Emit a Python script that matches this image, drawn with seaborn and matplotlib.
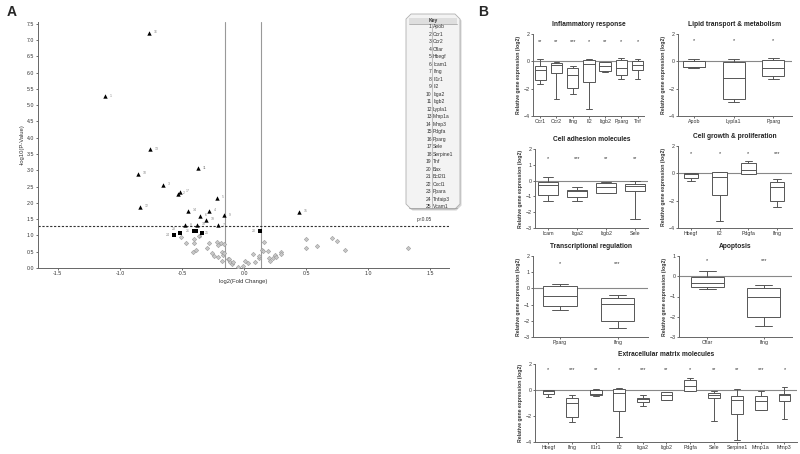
import numpy as np
import pandas as pd
import matplotlib
matplotlib.use("Agg")
import matplotlib.pyplot as plt
from matplotlib.patches import Polygon
import seaborn as sns

# ---- Panel A: volcano data ----
tri_x = [-0.766, -1.12, -0.758, -0.857, -0.65, -0.374, -0.535, -0.513, -0.839, -0.218,
         -0.452, -0.357, -0.28, -0.306, -0.161, -0.476, -0.381, -0.212, 0.438]
tri_y = [7.21, 5.27, 3.64, 2.88, 2.55, 3.06, 2.27, 2.33, 1.87, 2.16,
         1.75, 1.61, 1.76, 1.47, 1.62, 1.31, 1.32, 1.31, 1.73]
tri_lab = ["16", "1", "13", "10", "3", "11", "2", "17", "12", "5",
           "14", "6", "4", "19", "9", "8", "18", "7", "15"]
sq_x = [-0.565, -0.513, -0.40, -0.387, -0.341, 0.126]
sq_y = [1.00, 1.06, 1.13, 1.13, 1.08, 1.13]
sq_lab = ["24", "23", "21", "22", "25", "20"]
ns_x = [-0.47, -0.51, -0.40, -0.40, -0.41, -0.39, -0.36, -0.28, -0.30, -0.255, -0.24, -0.22,
        -0.21, -0.21, -0.19, -0.18, -0.17, -0.16, -0.18, -0.16, -0.13, -0.12, -0.11, -0.10,
        -0.09, -0.05, -0.01, 0.01, 0.03, 0.07, 0.09, 0.12, 0.12, 0.14, 0.15, 0.16, 0.19,
        0.20, 0.21, 0.23, 0.25, 0.26, 0.30, 0.30, 0.50, 0.50, 0.59, 0.71, 0.75, 0.81, 1.32]
ns_y = [0.76, 0.95, 0.89, 0.76, 0.50, 0.54, 0.97, 0.76, 0.60, 0.45, 0.38, 0.79,
        0.35, 0.72, 0.76, 0.50, 0.40, 0.73, 0.22, 0.45, 0.28, 0.27, 0.17, 0.13,
        0.18, 0.03, 0.07, 0.20, 0.14, 0.44, 0.18, 0.30, 0.36, 0.56, 0.52, 0.81, 0.52,
        0.31, 0.20, 0.30, 0.41, 0.33, 0.48, 0.44, 0.88, 0.62, 0.68, 0.91, 0.82, 0.55, 0.62]
fc_cut = [0.9, 1.1]
p_cut = 0.05
key_genes = ["Apob", "Ccr1", "Ccr2", "Cflar", "Hbegf", "Icam1", "Ifng", "Il1r1", "Il2",
             "Itga2", "Itgb2", "Lypla1", "Mmp1a", "Mmp3", "Pdgfa", "Pparg", "Sele",
             "Serpine1", "Tnf", "Bax", "Bcl2l1", "Cxcl1", "Ppara", "Tnfaip3", "Vcam1"]

# ---- Panel B: box summaries [min, q1, median, q3, max] ----
infl_genes = ["Ccr1", "Ccr2", "Ifng", "Il2", "Itgb2", "Pparg", "Tnf"]
infl_stats = [[-1.63, -1.39, -0.63, -0.32, 0.2], [-2.73, -0.85, -0.3, -0.1, -0.05],
              [-2.41, -1.98, -0.98, -0.46, -0.34], [-3.51, -1.51, -0.2, 0.07, 0.2],
              [-0.75, -0.73, -0.32, -0.07, -0.05], [-1.32, -1.02, -0.49, 0.12, 0.27],
              [-1.27, -0.66, -0.24, 0.0, 0.2]]
infl_stars = ["**", "**", "***", "*", "**", "*", "*"]

lipid_genes = ["Apob", "Lypla1", "Pparg"]
lipid_stats = [[-0.52, -0.45, -0.38, 0.02, 0.2], [-2.98, -2.78, -1.22, -0.05, 0.2],
               [-1.32, -1.05, -0.46, 0.12, 0.27]]
lipid_stars = ["*", "*", "*"]

adh_genes = ["Icam", "Itga2", "Itgb2", "Sele"]
adh_stats = [[-1.28, -0.9, -0.26, -0.1, 0.24], [-1.26, -1.03, -0.68, -0.62, -0.43],
             [-0.8, -0.79, -0.39, -0.15, -0.12], [-2.4, -0.65, -0.35, -0.2, -0.05]]
adh_stars = ["*", "***", "**", "**"]

grow_genes = ["Hbegf", "Il2", "Pdgfa", "Ifng"]
grow_stats = [[-0.55, -0.31, -0.07, 0.0, 0.01], [-3.52, -1.59, -0.24, 0.07, 0.12],
              [-0.07, -0.05, 0.24, 0.72, 0.89], [-2.43, -2.0, -0.99, -0.6, -0.41]]
grow_stars = ["*", "*", "*", "***"]

tr_genes = ["Pparg", "Ifng"]
tr_stats = [[-1.35, -1.1, -0.46, 0.12, 0.27], [-2.46, -2.03, -0.99, -0.58, -0.43]]
tr_stars = ["*", "***"]

apo_genes = ["Cflar", "Ifng"]
apo_stats = [[-0.61, -0.55, -0.31, -0.05, 0.25], [-2.45, -2.02, -1.0, -0.6, -0.43]]
apo_stars = ["*", "***"]

ecm_genes = ["Hbegf", "Ifng", "Il1r1", "Il2", "Itga2", "Itgb2", "Pdgfa", "Sele",
             "Serpine1", "Mmp1a", "Mmp3"]
ecm_stats = [[-0.56, -0.28, -0.1, 0.0, 0.02], [-2.49, -2.05, -1.0, -0.59, -0.41],
             [-0.46, -0.38, -0.3, 0.02, 0.05], [-3.64, -1.62, -0.23, 0.05, 0.13],
             [-1.23, -0.95, -0.69, -0.6, -0.38], [-0.8, -0.8, -0.36, -0.13, -0.12],
             [-0.08, -0.05, 0.31, 0.79, 0.95], [-2.38, -0.64, -0.41, -0.23, -0.05],
             [-3.85, -1.85, -0.77, -0.46, 0.05], [-1.56, -1.54, -0.82, -0.46, -0.05],
             [-2.26, -0.82, -0.36, -0.28, 0.26]]
ecm_stars = ["*", "***", "**", "*", "***", "**", "*", "**", "**", "***", "*"]

sns.set_style("white")
plt.rcParams["font.family"] = ["Liberation Sans", "DejaVu Sans"]
plt.rcParams["axes.unicode_minus"] = True

W, H = 800, 454
fig = plt.figure(figsize=(8, 4.54), dpi=100)


def px_axes(left, top, right, bottom):
    return fig.add_axes([left / W, 1 - bottom / H, (right - left) / W, (bottom - top) / H])


def style_axes(ax, fs=4):
    for s in ["top", "right"]:
        ax.spines[s].set_visible(False)
    for s in ["left", "bottom"]:
        ax.spines[s].set_color("#666666")
        ax.spines[s].set_linewidth(0.7)
    ax.tick_params(axis="both", labelsize=fs, length=1.5, width=0.5, pad=1,
                   colors="#333333", left=True, bottom=True)


# ---- Panel A ----
ax = px_axes(38, 22, 449, 268)
ns = pd.DataFrame({"x": ns_x, "y": ns_y})
tri = pd.DataFrame({"x": tri_x, "y": tri_y, "lab": tri_lab})
sq = pd.DataFrame({"x": sq_x, "y": sq_y, "lab": sq_lab})
sns.scatterplot(data=ns, x="x", y="y", ax=ax, marker="D", s=5, color="#c8c8c8",
                edgecolor="#9a9a9a", linewidth=0.4, zorder=3)
sns.scatterplot(data=tri, x="x", y="y", ax=ax, marker="^", s=10, color="black",
                edgecolor="black", linewidth=0, zorder=4)
sns.scatterplot(data=sq, x="x", y="y", ax=ax, marker="s", s=6, color="black",
                edgecolor="black", linewidth=0, zorder=4)
for x, y, lab in zip(tri["x"], tri["y"], tri["lab"]):
    ax.annotate(lab, (x, y), xytext=(3.5, 0.5), textcoords="offset points",
                fontsize=2.5, color="#888888", va="center")
sq_offsets = [(-6, 0), (-6, 3), (-6, 0), (2, -4), (2.5, 0), (-6, 0)]
for (x, y, lab), (dx, dy) in zip(zip(sq["x"], sq["y"], sq["lab"]), sq_offsets):
    ax.annotate(lab, (x, y), xytext=(dx, dy), textcoords="offset points",
                fontsize=2.5, color="#888888", va="center")
for fc in fc_cut:
    ax.axvline(np.log2(fc), color="#999999", lw=0.8, zorder=1)
ax.axhline(-np.log10(p_cut), color="#333333", lw=0.8, ls=(0, (2, 1.5)), zorder=2)
ax.text(1.45, -np.log10(p_cut) + 0.1, "p<0.05", fontsize=3.5, color="#333333",
        ha="center", va="bottom")
ax.set_xlim(-1.66, 1.65)
ax.set_ylim(0, 7.55)
ax.set_xticks([-1.5, -1.0, -0.5, 0.0, 0.5, 1.0, 1.5])
ax.set_yticks(np.arange(0, 7.6, 0.5))
ax.xaxis.set_major_formatter(matplotlib.ticker.FormatStrFormatter("%.1f"))
ax.yaxis.set_major_formatter(matplotlib.ticker.FormatStrFormatter("%.1f"))
ax.set_xlabel("log2(Fold Change)", fontsize=4.2, labelpad=1.5, color="#333333")
ax.set_ylabel("-log10(P-Value)", fontsize=4.2, labelpad=2, color="#333333")
style_axes(ax, fs=3.8)


# ---- Panel B ----
def box_panel(rect, title, genes, stats, stars, ylim, yticks, xlim, width, star_y):
    ax = px_axes(*rect)
    rows = [(g, v) for g, st in zip(genes, stats) for v in st]
    df = pd.DataFrame(rows, columns=["gene", "value"])
    ax.axhline(0, color="#888888", lw=0.8, zorder=0.5)
    sns.boxplot(data=df, x="gene", y="value", order=genes, ax=ax, whis=(0, 100),
                width=width, color="white", linecolor="#555555", linewidth=0.7,
                showfliers=False, zorder=2)
    for i, s in enumerate(stars):
        ax.text(i, star_y, s, ha="center", va="center", fontsize=4, color="#333333")
    ax.set_xlim(*xlim)
    ax.set_ylim(*ylim)
    ax.set_yticks(yticks)
    ax.set_xlabel("")
    ax.set_ylabel("Relative gene expression (log2)", fontsize=3.7, fontweight="bold",
                  labelpad=1.5, color="#333333")
    ax.set_title(title, fontsize=4.8, fontweight="bold", pad=6, color="#222222")
    style_axes(ax, fs=3.8)
    return ax


box_panel((533, 34, 644, 116), "Inflammatory response", infl_genes, infl_stats,
          infl_stars, (-4, 2), [-4, -2, 0, 2], (-0.45, 6.4), 0.7, 1.45)
box_panel((678, 34, 792, 116), "Lipid transport & metabolism", lipid_genes, lipid_stats,
          lipid_stars, (-4, 2), [-4, -2, 0, 2], (-0.4, 2.47), 0.55, 1.5)
box_panel((535, 149, 648, 228), "Cell adhesion molecules", adh_genes, adh_stats,
          adh_stars, (-3, 2), [-3, -2, -1, 0, 1, 2], (-0.45, 3.45), 0.72, 1.42)
box_panel((678, 146, 792, 228), "Cell growth & proliferation", grow_genes, grow_stats,
          grow_stars, (-4, 2), [-4, -2, 0, 2], (-0.45, 3.52), 0.5, 1.47)
box_panel((533, 256, 648, 337), "Transcriptional regulation", tr_genes, tr_stats,
          tr_stars, (-3, 2), [-3, -2, -1, 0, 1, 2], (-0.47, 1.53), 0.58, 1.55)
box_panel((679, 256, 792, 337), "Apoptosis", apo_genes, apo_stats,
          apo_stars, (-3, 1), [-3, -2, -1, 0, 1], (-0.5, 1.5), 0.59, 0.78)
box_panel((535, 364, 797, 442), "Extracellular matrix molecules", ecm_genes, ecm_stats,
          ecm_stars, (-4, 2), [-4, -2, 0, 2], (-0.57, 10.53), 0.5, 1.54)

# ---- overlay in pixel coordinates: panel letters and key ----
ov = fig.add_axes([0, 0, 1, 1], zorder=10)
ov.set_xlim(0, W)
ov.set_ylim(H, 0)
ov.axis("off")
ov.text(7, 12, "A", fontsize=10, fontweight="bold", va="center", ha="left")
ov.text(478, 12, "B", fontsize=10, fontweight="bold", va="center", ha="left")

kl, kt, kr, kb, c = 406, 14, 460, 209, 5
shape = [(kl + c, kt), (kr - c, kt), (kr, kt + c), (kr, kb - c), (kr - c, kb),
         (kl + c, kb), (kl, kb - c), (kl, kt + c)]
ov.add_patch(Polygon([(x + 1.5, y + 1.5) for x, y in shape], closed=True,
                     facecolor="#d4d4d4", edgecolor="none"))
ov.add_patch(Polygon(shape, closed=True, facecolor="#f3f3f3", edgecolor="#b0b0b0", lw=0.6))
ov.add_patch(plt.Rectangle((kl + 3, 18), kr - kl - 6, 5.5, facecolor="#dedede",
                           edgecolor="none"))
ov.text((kl + kr) / 2, 20.7, "Key", fontsize=3.6, fontweight="bold", ha="center",
        va="center", color="#333333")
ov.plot([kl + 3, kr - 3], [23.5, 23.5], color="#999999", lw=0.5)
ov.plot([kl + 3, kr - 3], [207.5, 207.5], color="#999999", lw=0.5)
ov.plot([432.2, 432.2], [23.5, 207.5], color="#999999", lw=0.4)
for i, g in enumerate(key_genes):
    y = 26.7 + i * 7.5
    ov.text(431.7, y, str(i + 1), fontsize=3.6, ha="right", va="center", color="#333333")
    ov.text(433, y, g, fontsize=3.6, ha="left", va="center", color="#333333")

fig.savefig("out.png", dpi=100)
